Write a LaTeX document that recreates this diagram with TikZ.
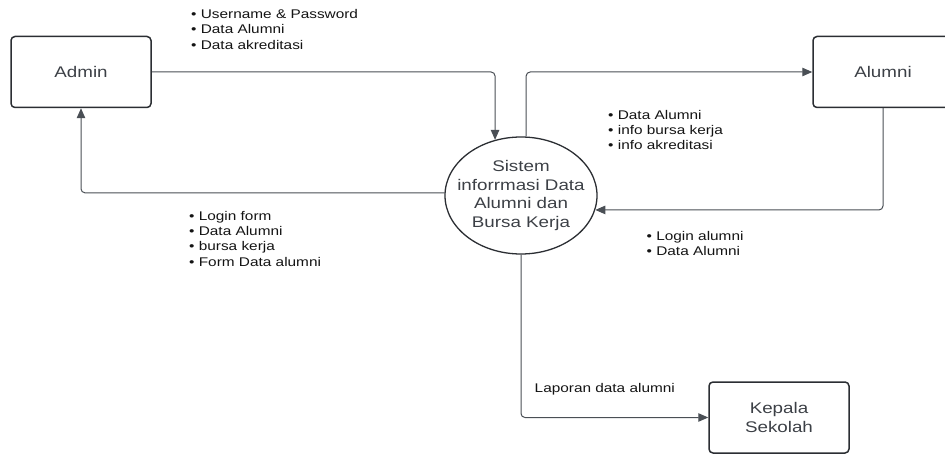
\documentclass[tikz,border=0pt]{standalone}
\usepackage{fontspec}
\setmainfont{Liberation Sans}[FakeStretch=1.22]
\usetikzlibrary{arrows.meta,shapes.geometric}
\definecolor{linec}{HTML}{4A4F55}
\definecolor{boxc}{HTML}{2B2E33}
\definecolor{txtc}{HTML}{3C4046}
\definecolor{lblc}{HTML}{141414}
\begin{document}
\begin{tikzpicture}[x=1pt,y=-1pt,
  ent/.style={draw=boxc, line width=1.5pt, rounded corners=4pt, minimum width=140pt,
    minimum height=71pt, text=txtc, font=\fontsize{15.4}{19}\selectfont, align=center, inner sep=0pt},
  proc/.style={draw=boxc, ellipse, line width=1.3pt, minimum width=152pt, minimum height=117pt,
    inner xsep=-12pt, inner ysep=0pt, text=txtc, font=\fontsize{15.4}{18.7}\selectfont, align=center},
  flow/.style={draw=linec, line width=1pt, rounded corners=4pt, -{Triangle[length=10pt,width=8.5pt]}},
  lbl/.style={anchor=north west, align=left, inner sep=0pt, text=lblc, font=\fontsize{12.6}{15.3}\selectfont}]
\useasboundingbox (0,0) rectangle (945,454);
\node[ent] (admin) at (81,72) {Admin};
\node[ent] (alumni) at (883,72) {Alumni};
\node[ent] (kepala) at (779,417.5) {Kepala\\Sekolah};
\node[proc] (sis) at (521,195.5) {Sistem\\inforrmasi Data\\Alumni dan\\Bursa Kerja};

\draw[flow] (admin.east) -| (sis.115);
\draw[flow] (sis.85) |- (alumni.west);
\draw[flow] (alumni.south) |- (sis.-11);
\draw[flow] (sis.178) -| (admin.south);
\draw[flow] (sis.south) |- (kepala.west);

\node[lbl] (l1) at (191,9.3) {• Username \& Password\\• Data Alumni\\• Data akreditasi};
\node[lbl] (l2) at (608,110) {• Data Alumni\\• info bursa kerja\\• info akreditasi};
\node[lbl] (l3) at (189,211) {• Login form\\• Data Alumni\\• bursa kerja\\• Form Data alumni};
\node[lbl] (l4) at (646.5,231) {• Login alumni\\• Data Alumni};
\node[lbl] (l5) at (534.5,382.7) {Laporan data alumni};
\end{tikzpicture}
\end{document}
